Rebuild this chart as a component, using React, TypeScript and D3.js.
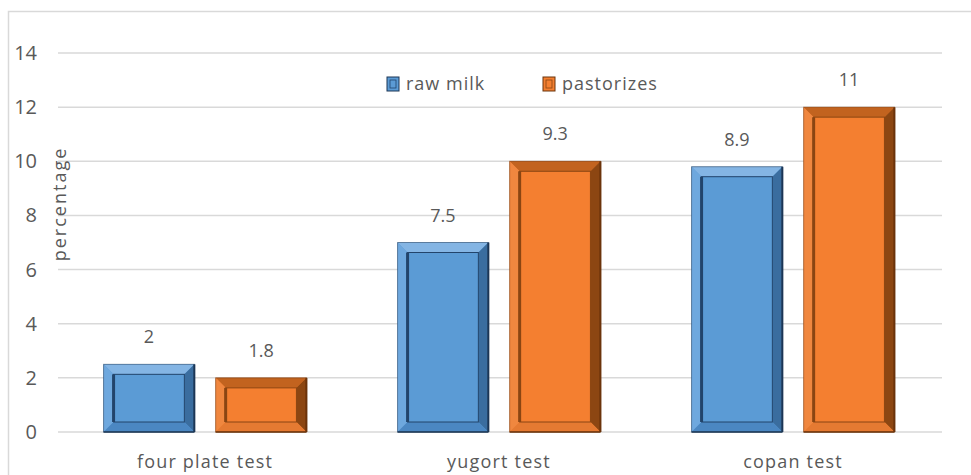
import * as d3 from "d3";

const categories = ["four plate test", "yugort test", "copan test"];
const seriesNames = ["raw milk", "pastorizes"];
// bar heights as drawn
const rawMilk = [2.5, 7, 9.8];
const pastorizes = [2, 10, 12];
// printed data labels (they differ from the drawn heights in the source)
const rawMilkLabels = ["2", "7.5", "8.9"];
const pastorizesLabels = ["1.8", "9.3", "11"];
const yTicks = [0, 2, 4, 6, 8, 10, 12, 14];

const W = 971;
const H = 475;
const FONT = "'Open Sans', sans-serif";
const TEXT = "#595959";

const palettes = [
  { face: "#5b9bd5", top: "#84b5e4", left: "#6ea8de", right: "#3a6d9f", bottom: "#4b87c2", edge: "#1d3756", inner: "#22446b" },
  { face: "#f47f30", top: "#c2631f", left: "#f0873f", right: "#8c4612", bottom: "#e57a32", edge: "#6b340c", inner: "#8a4512" },
];

function BevelBar({ x, y, w, h, p }: { x: number; y: number; w: number; h: number; p: typeof palettes[0] }) {
  const b = Math.min(10, h / 3);
  const x2 = x + w;
  const y2 = y + h;
  return (
    <g>
      <rect x={x} y={y} width={w} height={h} fill={p.face} />
      <polygon points={`${x},${y} ${x2},${y} ${x2 - b},${y + b} ${x + b},${y + b}`} fill={p.top} />
      <polygon points={`${x},${y} ${x + b},${y + b} ${x + b},${y2 - b} ${x},${y2}`} fill={p.left} />
      <polygon points={`${x2},${y} ${x2},${y2} ${x2 - b},${y2 - b} ${x2 - b},${y + b}`} fill={p.right} />
      <polygon points={`${x},${y2} ${x + b},${y2 - b} ${x2 - b},${y2 - b} ${x2},${y2}`} fill={p.bottom} />
      <rect x={x + b} y={y + b} width={w - 2 * b} height={h - 2 * b} fill={p.face} stroke={p.inner} strokeWidth={1} />
      <line x1={x + b} y1={y + b} x2={x + b} y2={y2 - b} stroke={p.inner} strokeWidth={3} />
      <line x1={x2} y1={y} x2={x2} y2={y2} stroke={p.edge} strokeWidth={2} />
      <line x1={x} y1={y2} x2={x2} y2={y2} stroke={p.edge} strokeWidth={1.5} />
      <rect x={x} y={y} width={w} height={h} fill="none" stroke={p.edge} strokeOpacity={0.5} strokeWidth={1} />
    </g>
  );
}

export default function App() {
  const x0 = d3.scaleBand<string>().domain(categories).range([58, 940]).paddingInner(0.31).paddingOuter(0.155);
  const x1 = d3.scaleBand<string>().domain(seriesNames).range([0, x0.bandwidth()]).paddingInner(0.19).paddingOuter(0);
  const y = d3.scaleLinear().domain([0, 14]).range([432, 53]);

  const series = [
    { name: seriesNames[0], values: rawMilk, labels: rawMilkLabels, p: palettes[0] },
    { name: seriesNames[1], values: pastorizes, labels: pastorizesLabels, p: palettes[1] },
  ];

  return (
    <svg width={W} height={H} style={{ position: "absolute", left: 0, top: 0, background: "#fff" }} fontFamily={FONT}>
      <rect x={0} y={0} width={W} height={H} fill="#fff" />
      <path d={`M8.5,${H} V11.5 H${W}`} fill="none" stroke="#d9d9d9" strokeWidth={1.5} />

      {yTicks.map((t) => (
        <g key={t}>
          <line x1={58} x2={942} y1={y(t)} y2={y(t)} stroke="#d9d9d9" strokeWidth={1.5} />
          <text x={37} y={y(t)} dy="0.35em" textAnchor="end" fontSize={20} fill={TEXT}>
            {t}
          </text>
        </g>
      ))}

      <text
        transform={`translate(66,204) rotate(-90)`}
        textAnchor="middle"
        fontSize={18}
        letterSpacing={2}
        fill={TEXT}
      >
        percentage
      </text>

      {series.map((s) =>
        categories.map((c, i) => {
          const bx = (x0(c) ?? 0) + (x1(s.name) ?? 0);
          const by = y(s.values[i]);
          return (
            <g key={s.name + c}>
              <BevelBar x={bx} y={by} w={x1.bandwidth()} h={y(0) - by} p={s.p} />
              <text x={bx + x1.bandwidth() / 2} y={by - 21} textAnchor="middle" fontSize={18} fill={TEXT}>
                {s.labels[i]}
              </text>
            </g>
          );
        })
      )}

      {categories.map((c) => (
        <text key={c} x={(x0(c) ?? 0) + x0.bandwidth() / 2} y={468} textAnchor="middle" fontSize={18} letterSpacing={1.2} fill={TEXT}>
          {c}
        </text>
      ))}

      {series.map((s, i) => {
        const lx = i === 0 ? 387 : 543;
        return (
          <g key={s.name}>
            <rect x={lx} y={77} width={12} height={14} fill={s.p.face} stroke={s.p.edge} strokeWidth={1} />
            <rect x={lx + 3} y={80} width={6} height={8} fill={s.p.face} stroke={s.p.inner} strokeWidth={0.8} />
            <text x={lx + 19} y={84} dy="0.35em" fontSize={18} letterSpacing={1} fill={TEXT}>
              {s.name}
            </text>
          </g>
        );
      })}
    </svg>
  );
}
